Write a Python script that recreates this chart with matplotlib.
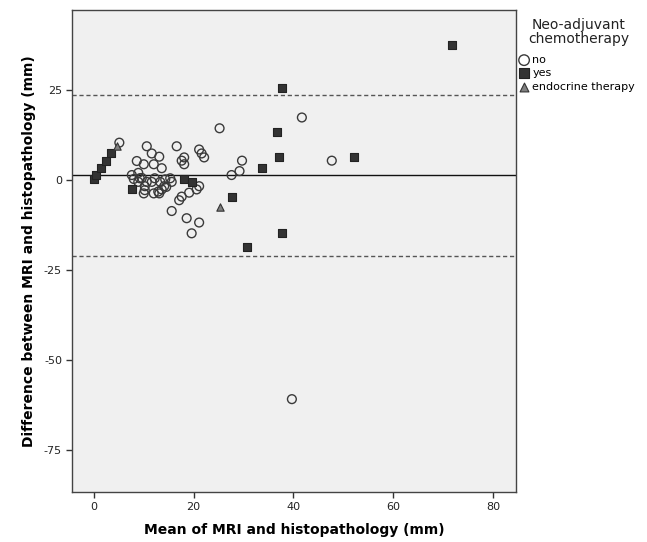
import numpy as np
import matplotlib
matplotlib.use("Agg")
import matplotlib.pyplot as plt

# ----------------- Data -----------------
# group "no": open circles
no_x = [5.1, 10.6, 8.6, 10.0, 11.6, 13.1, 12.0, 13.6, 16.6, 18.1, 17.6, 18.1,
        21.1, 21.6, 22.1, 25.2, 29.7, 29.2, 27.6, 41.7, 47.7, 39.7,
        7.6, 8.0, 8.9, 9.2, 11.6, 12.2, 10.2, 10.0, 12.0, 13.1, 13.6, 14.1,
        14.3, 15.3, 15.6, 17.6, 17.1, 19.1, 20.6, 21.1, 15.6, 18.6, 21.1, 19.6,
        9.6, 8.9, 10.6, 13.3, 14.5, 12.9, 10.2]
no_y = [10.4, 9.4, 5.3, 4.4, 7.4, 6.5, 4.4, 3.3, 9.4, 6.3, 5.4, 4.4,
        8.5, 7.4, 6.3, 14.4, 5.4, 2.5, 1.4, 17.4, 5.4, -60.9,
        1.4, 0.3, 2.0, 0.5, -0.5, 0.5, -1.7, -3.7, -3.7, -3.7, -2.6, -1.7,
        0.2, 0.5, -0.5, -4.6, -5.6, -3.5, -2.6, -1.7, -8.6, -10.6, -11.8, -14.8,
        0.6, -0.5, -0.5, -0.5, -1.9, -3.2, -2.8]

# group "yes": filled squares
yes_x = [0.0, 0.5, 1.5, 2.5, 3.5, 7.6, 18.1, 19.7, 27.6, 33.7, 37.7, 36.7,
         37.1, 52.2, 37.7, 30.7, 71.8]
yes_y = [0.3, 1.4, 3.4, 5.4, 7.4, -2.6, 0.3, -0.6, -4.6, 3.4, 25.5, 13.4,
         6.3, 6.3, -14.8, -18.5, 37.5]

# group "endocrine therapy": grey triangles
endo_x = [4.55, 25.2]
endo_y = [9.5, -7.4]

mean_diff = 1.3
upper_loa = 23.7
lower_loa = -21.1

x_ticks = [0, 20, 40, 60, 80]
y_ticks = [25, 0, -25, -50, -75]

# ----------------- Plot -----------------
plt.rcParams['font.family'] = ['DejaVu Sans']
plt.rcParams['axes.unicode_minus'] = False

fig = plt.figure(figsize=(6.47, 5.42), dpi=100)
ax = fig.add_axes([0.112, 0.093, 0.686, 0.888])
ax.set_facecolor('#f0f0f0')

ax.axhline(mean_diff, color='#111111', linewidth=1.0, zorder=1)
ax.axhline(upper_loa, color='#555555', linewidth=1.0, linestyle=(0, (3, 2)), zorder=1)
ax.axhline(lower_loa, color='#555555', linewidth=1.0, linestyle=(0, (3, 2)), zorder=1)

ax.scatter(no_x, no_y, s=40, marker='o', facecolors='none', edgecolors='#3a3a3a',
           linewidths=1.0, label='no', zorder=3)
ax.scatter(yes_x, yes_y, s=34, marker='s', color='#333333', edgecolors='#222222',
           linewidths=0.8, label='yes', zorder=3)
ax.scatter(endo_x, endo_y, s=28, marker='^', color='#808080', edgecolors='#333333',
           linewidths=0.8, label='endocrine therapy', zorder=3)

ax.set_xlim(-4.3, 84.7)
ax.set_ylim(-86.6, 47.2)
ax.set_xticks(x_ticks)
ax.set_yticks(y_ticks)
ax.tick_params(axis='both', direction='out', length=4, width=1, color='#333333',
               labelsize=8, labelcolor='#222222')

for sp in ax.spines.values():
    sp.set_color('#444444')
    sp.set_linewidth(1.0)

ax.set_xlabel('Mean of MRI and histopathology (mm)', fontsize=10, weight='bold', labelpad=8)
ax.set_ylabel('Difference between MRI and histopathology (mm)', fontsize=10, weight='bold', labelpad=6)

# legend title drawn separately to get the gap seen in the original
fig.text(0.894, 0.966, 'Neo-adjuvant\nchemotherapy', ha='center', va='top',
         fontsize=10, linespacing=1.0, color='#222222')
leg = ax.legend(loc='upper left', bbox_to_anchor=(1.005, 0.907), frameon=False,
                fontsize=8, handletextpad=0.25, handlelength=1.0, borderaxespad=0.0,
                borderpad=0.0, labelspacing=0.3, markerscale=1.2)

fig.savefig('out.png', dpi=100)
plt.close(fig)
